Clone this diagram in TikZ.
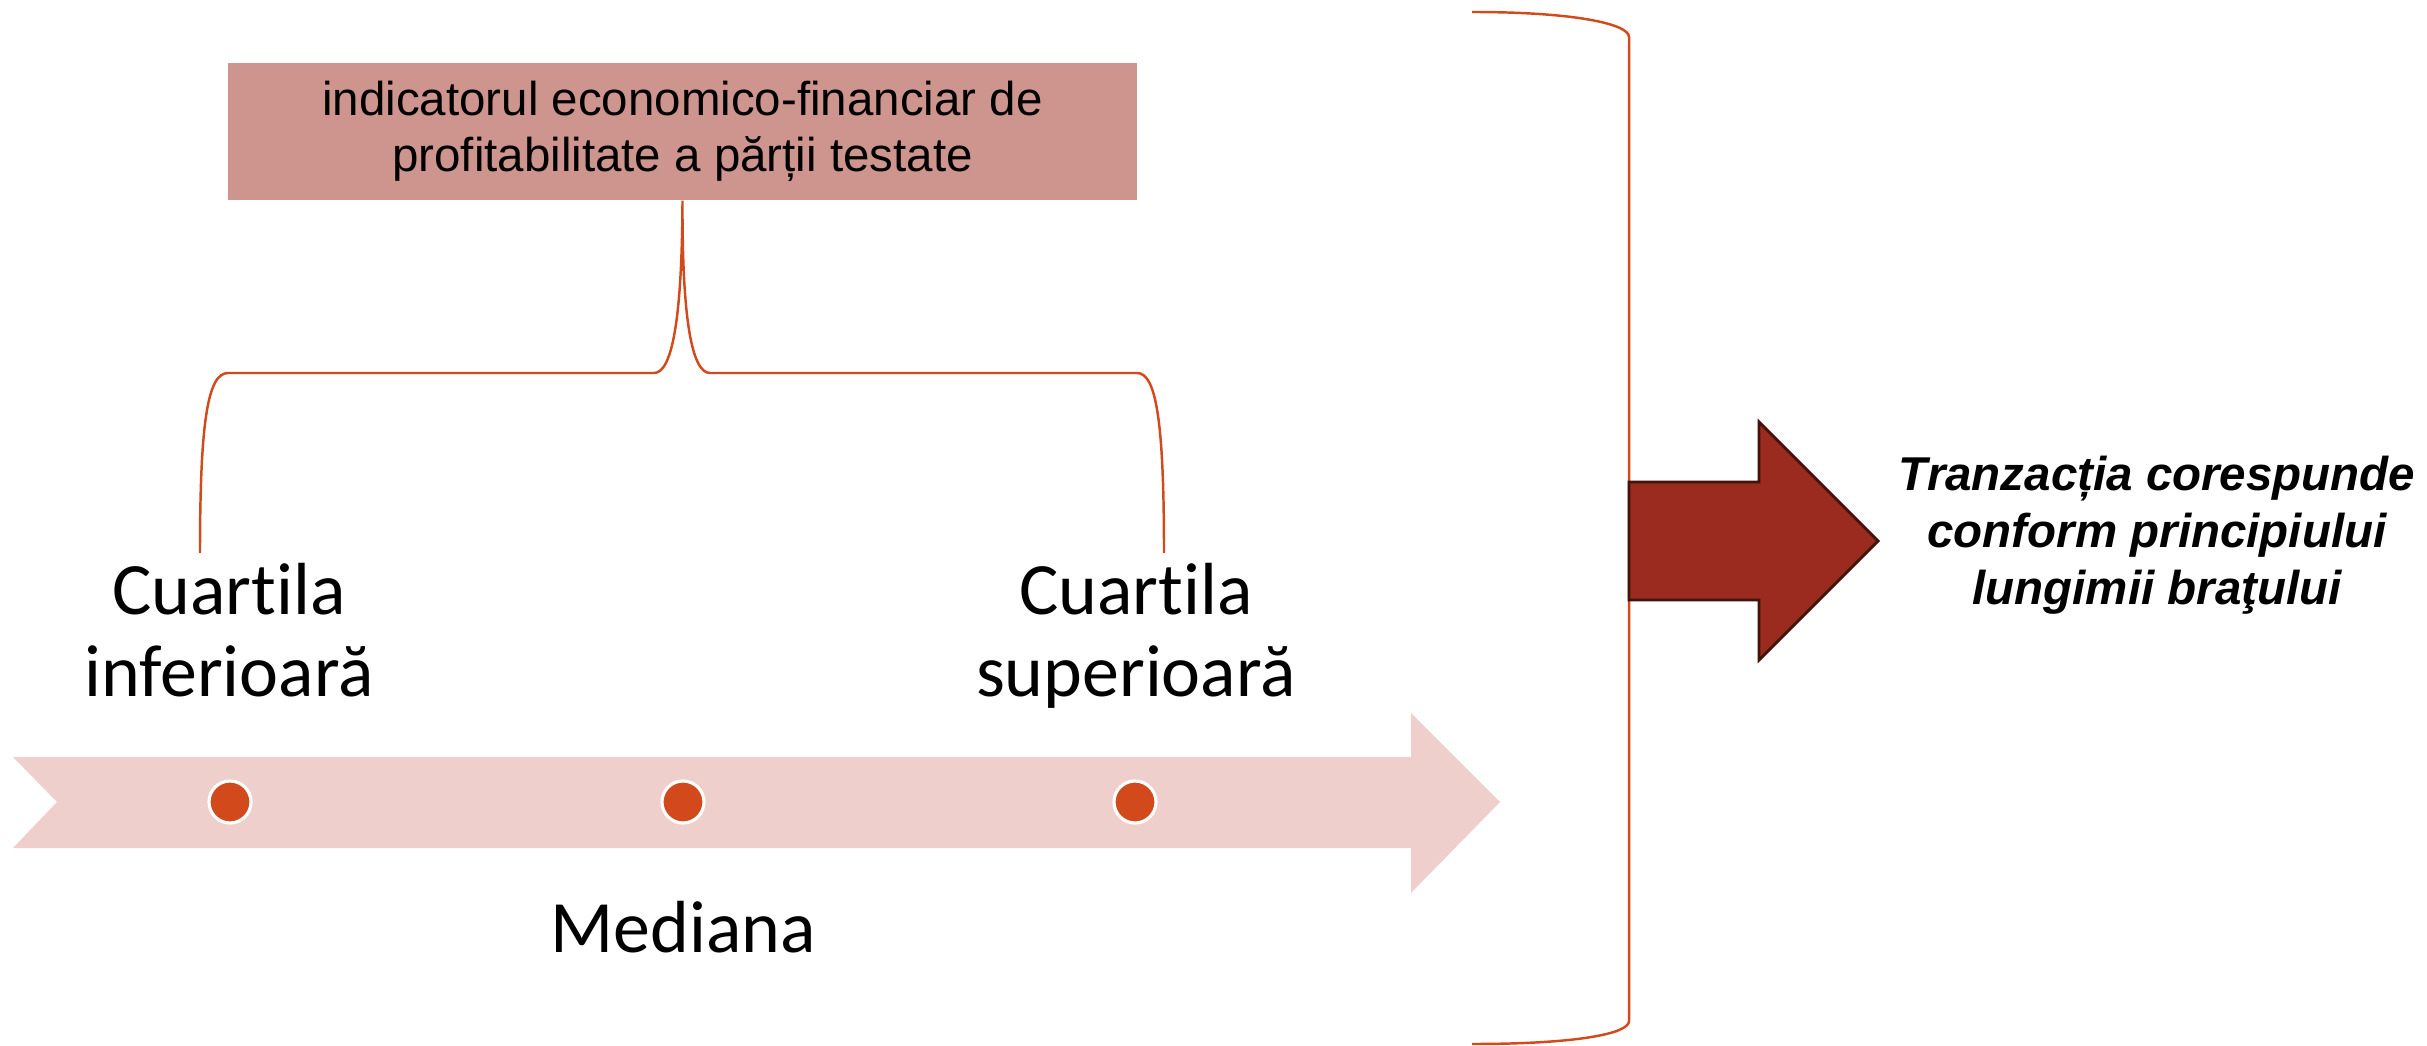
\documentclass[tikz,border=0pt]{standalone}
\usepackage{fontspec}
\setmainfont{Carlito}[Ligatures=NoCommon]
\newfontfamily\arialfont{Liberation Sans}
\usepackage{color}
\definecolor{boxrose}{RGB}{205,149,141}
\definecolor{braceorange}{RGB}{210,74,28}
\definecolor{bandpink}{RGB}{238,207,204}
\definecolor{arrowred}{RGB}{154,43,30}
\definecolor{arrowedge}{RGB}{66,18,12}

\begin{document}
\begin{tikzpicture}[x=0.01cm,y=-0.01cm,
    brace/.style={draw=braceorange,line width=0.7pt},
    dot/.style={circle,fill=braceorange,draw=white,line width=0.9pt,minimum size=0.42cm,inner sep=0pt},
    quart/.style={align=center,anchor=base,font=\fontsize{21}{23.3}\selectfont}]
      \useasboundingbox (0,0) rectangle (2427,1046);

      % pale time axis
      \fill[bandpink] (13,757) -- (1411,757) -- (1411,713) -- (1500,802) -- (1411,893) -- (1411,848) -- (13,848) -- (57,802) -- cycle;
      \node[dot] (dlow) at (230,802) {};
      \node[dot] (dmed) at (683,802) {};
      \node[dot] (dup) at (1135,802) {};

      \node[quart] (qlow) at (229,696) {Cuartila\\inferioară};
      \node[quart] (qup) at (1136,696) {Cuartila\\superioară};
      \node[quart] (med) at (683,952) {Mediana};

      \node[fill=boxrose,minimum width=9.09cm,minimum height=1.37cm,inner ysep=2pt,align=center,
            font=\arialfont\fontsize{13.5}{16}\selectfont] (ind) at (682.5,131.5)
            {indicatorul economico-financiar de\\profitabilitate a părții testate};

      % brace under the indicator
      \coordinate (bl) at (200,553);
      \coordinate (br) at (1164,553);
      \draw[brace] (bl) .. controls (200,420) and (208,373) .. (228,373) -- (654,373)
            .. controls (672,373) and (682,320) .. (ind.south)
            .. controls (682,320) and (692,373) .. (710,373) -- (1137,373)
            .. controls (1156,373) and (1164,420) .. (br);

      % big brace on the right
      \coordinate (rt) at (1472,12);
      \coordinate (rb) at (1472,1044);
      \draw[brace] (rt) .. controls (1575,12) and (1629,24) .. (1629,37) -- (1629,1021)
            .. controls (1629,1034) and (1575,1044) .. (rb);

      \filldraw[fill=arrowred,draw=arrowedge,line width=0.8pt] (1629,482) -- (1759,482) -- (1759,422) -- (1878,541)
            -- (1759,660) -- (1759,600) -- (1629,600) -- cycle;

      \node[align=center,anchor=base,font=\arialfont\bfseries\itshape\fontsize{13.5}{16.2}\selectfont] (res) at (2157,604)
            {Tranzacția corespunde\\conform principiului\\lungimii braţului};
\end{tikzpicture}
\end{document}
